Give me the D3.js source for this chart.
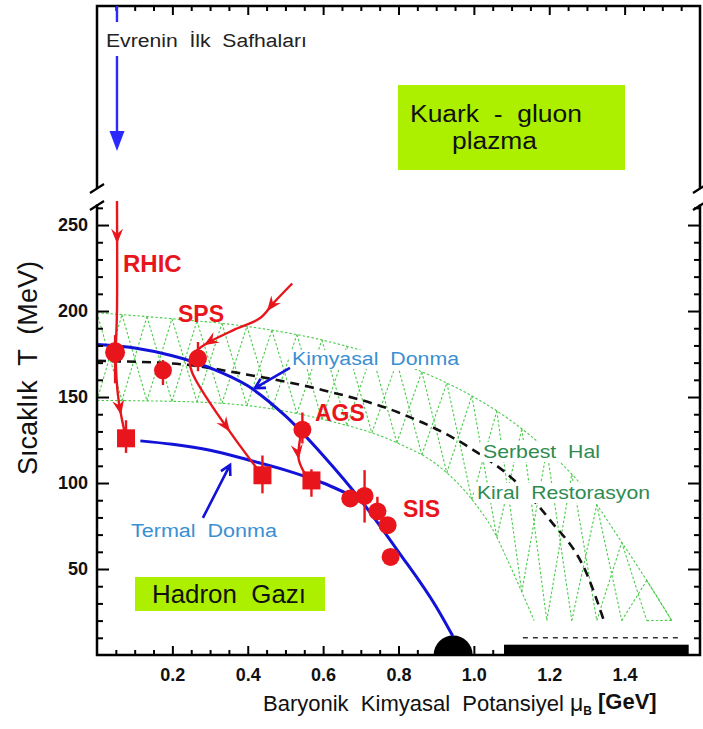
<!DOCTYPE html>
<html>
<head>
<meta charset="utf-8">
<script src="https://cdn.jsdelivr.net/npm/d3@7"></script>
<style>
  body { margin: 0; background: #fff; }
  text { font-family: "Liberation Sans", Arial, Helvetica, sans-serif; white-space: pre; }
</style>
</head>
<body>
<svg id="chart" width="703" height="729"></svg>
<script>
// ---- axis ticks ----
const muTicks = [0.2, 0.4, 0.6, 0.8, 1, 1.2, 1.4];
const tTicks = [50, 100, 150, 200, 250];

// ---- curves (muB in GeV, T in MeV) ----
const chemMu = [0, 0.1, 0.2, 0.3, 0.4, 0.5, 0.6, 0.7, 0.8, 0.9, 0.944];
const chemT  = [180.5, 178.5, 174, 167, 156.5, 139, 116, 90, 60, 28, 11];

const thermMu = [0.115, 0.2, 0.3, 0.4, 0.5, 0.6, 0.7];
const thermT  = [124.5, 122.5, 119, 113.5, 107.5, 100, 90];

const chiralMu = [0, 0.2, 0.4, 0.6, 0.8, 1.0, 1.1, 1.2, 1.3, 1.345];
const chiralT  = [171, 169.5, 163, 154, 141, 119, 103, 79, 47, 20];

const bandUpMu = [0, 0.2, 0.4, 0.6, 0.8, 0.9, 1.0, 1.1, 1.2, 1.3, 1.4, 1.5, 1.525];
const bandUpT  = [199, 195.5, 191, 183, 170, 161, 150, 136, 118, 95, 63, 29, 20];
const bandLoMu = [0, 0.2, 0.4, 0.6, 0.8, 0.9, 1.0, 1.05, 1.1, 1.16];
const bandLoT  = [148, 147.5, 145, 137, 123, 111, 89, 73, 50, 20];

// ---- chemical freeze-out points (circles) ----
const circMu = [0.048, 0.175, 0.268, 0.545, 0.672, 0.71, 0.744, 0.771, 0.779];
const circT  = [176, 165.5, 172.5, 131, 91, 92.5, 83.5, 75.5, 57];
const circLo = [158, 157, 165, 123, 86, 77, 80, 72, 54];
const circHi = [186, 171.5, 182, 141, 96, 107.5, 92, 79, 60];

// ---- thermal freeze-out points (squares) ----
const sqMu = [0.077, 0.439, 0.569];
const sqT  = [126, 104.5, 101.5];
const sqLo = [117.5, 94, 92];
const sqHi = [136.5, 116, 108];

// ---- collision trajectories ----
const rhicMu = [0.053, 0.053, 0.05, 0.052, 0.058, 0.068, 0.077];
const rhicT  = [264, 200, 176, 160, 147, 135, 126];
const spsMu  = [0.518, 0.468, 0.433, 0.362, 0.293, 0.266, 0.247, 0.252, 0.412, 0.439];
const spsT   = [216, 204.6, 195.9, 188.9, 181.4, 177.3, 172.7, 164.5, 112, 105];
const agsMu  = [0.54, 0.535, 0.55];
const agsT   = [127, 114, 106];

// ---- nuclear matter and neutron-star region ----
const nucleonMu = 0.945;
const starMu = [1.08, 1.57];
const starT = 6;
const starLineMu = [1.13, 1.55];
const starLineT = 10;

// ---- pointer arrows [mu, T] from -> to ----
const chemArrow  = [[0.512, 166.9], [0.419, 155.2]];
const thermArrow = [[0.281, 79.7], [0.353, 110.5]];

const RED = "#e8161c", BLUE = "#1212d8", LBLUE = "#3a8fd2", GREEN = "#2e8b4f", LIME = "#acf000";

const svg = d3.select("#chart");
const x = d3.scaleLinear().domain([0, 1.6]).range([97, 700]);
const y = d3.scaleLinear().domain([0, 262]).range([655, 204.4]);
const pts = (mu, T) => mu.map((m, i) => [x(m), y(T[i])]);
const monoLine = d3.line().curve(d3.curveMonotoneX);
const crLine = d3.line().curve(d3.curveCatmullRom.alpha(0.5));

// ---------- hatched crossover band ----------
const gBand = svg.append("g");
const upNode = gBand.append("path").attr("d", monoLine(pts(bandUpMu, bandUpT)))
  .attr("fill", "none").attr("stroke", "#4ccc4c").attr("stroke-width", 1.1)
  .attr("stroke-dasharray", "2.5,2").node();
const loNode = gBand.append("path").attr("d", monoLine(pts(bandLoMu, bandLoT)))
  .attr("fill", "none").attr("stroke", "#4ccc4c").attr("stroke-width", 1.1)
  .attr("stroke-dasharray", "2.5,2").node();

function sampler(node) {
  const L = node.getTotalLength(), s = [];
  for (let l = 0; l <= L; l += 1) { const p = node.getPointAtLength(l); s.push([p.x, p.y]); }
  const bis = d3.bisector(d => d[0]).left;
  return px => {
    const i = bis(s, px);
    if (i <= 0) return s[0][1];
    if (i >= s.length) return s[s.length - 1][1];
    const a = s[i - 1], b = s[i];
    return a[1] + (b[1] - a[1]) * (px - a[0]) / ((b[0] - a[0]) || 1);
  };
}
const upY = sampler(upNode), loCurveY = sampler(loNode);
const muUpEnd = bandUpMu[bandUpMu.length - 1];
const muLoEnd = bandLoMu[bandLoMu.length - 1];
const floorY = y(bandLoT[bandLoT.length - 1]);
const loY = px => px <= x(muLoEnd) ? loCurveY(px) : floorY;
const nHatch = 23;
const hatch = [];
for (let k = 0; k < nHatch; k++) {
  const xa = x(muUpEnd * k / nHatch), xb = x(muUpEnd * (k + 1) / nHatch);
  hatch.push([[xa, upY(xa)], [xb, loY(xb)]]);
  hatch.push([[xa, loY(xa)], [xb, upY(xb)]]);
}
gBand.selectAll("path.h").data(hatch).join("path").attr("class", "h")
  .attr("d", d => d3.line()(d)).attr("fill", "none")
  .attr("stroke", "#4ccc4c").attr("stroke-width", 1.1).attr("stroke-dasharray", "2.5,2");

// ---------- chiral restoration (dashed) ----------
svg.append("path").attr("d", monoLine(pts(chiralMu, chiralT)))
  .attr("fill", "none").attr("stroke", "#111").attr("stroke-width", 2.6)
  .attr("stroke-dasharray", "9,6");

// ---------- nuclear matter / neutron stars ----------
svg.append("line").attr("x1", x(starLineMu[0])).attr("x2", x(starLineMu[1]))
  .attr("y1", y(starLineT)).attr("y2", y(starLineT))
  .attr("stroke", "#333").attr("stroke-width", 1.6).attr("stroke-dasharray", "5,5");
svg.append("rect").attr("x", x(starMu[0])).attr("width", x(starMu[1]) - x(starMu[0]))
  .attr("y", y(starT)).attr("height", y(0) - y(starT)).attr("fill", "#000");
const discR = 19.5;
svg.append("path")
  .attr("d", `M${x(nucleonMu) - discR},${y(0)} A${discR},${discR} 0 0 1 ${x(nucleonMu) + discR},${y(0)} Z`)
  .attr("fill", "#000");

// ---------- labels with white backing ----------
function label(g, txt, px, py, opt) {
  const t = g.append("text").attr("x", px).attr("y", py).text(txt)
    .attr("font-size", opt.size).attr("fill", opt.color)
    .attr("font-weight", opt.bold ? "bold" : "normal");
  if (opt.len) t.attr("textLength", opt.len).attr("lengthAdjust", "spacingAndGlyphs");
  if (opt.bg) {
    const b = t.node().getBBox();
    g.insert("rect", () => t.node()).attr("x", b.x - 3).attr("y", b.y + 1)
      .attr("width", b.width + 6).attr("height", b.height - 1).attr("fill", "#fff");
  }
  return t;
}
const gLab = svg.append("g");
label(gLab, "Kimyasal  Donma", 292, 365, { size: 18, color: LBLUE, len: 167, bg: true });
label(gLab, "Serbest  Hal", 483, 458, { size: 19, color: GREEN, len: 117, bg: true });
label(gLab, "Kiral  Restorasyon", 477, 499, { size: 19, color: GREEN, len: 173, bg: true });
label(gLab, "Termal  Donma", 131, 537, { size: 18, color: LBLUE, len: 146 });

// ---------- freeze-out curves ----------
svg.append("path").attr("d", monoLine(pts(chemMu, chemT)))
  .attr("fill", "none").attr("stroke", BLUE).attr("stroke-width", 3);
svg.append("path").attr("d", monoLine(pts(thermMu, thermT)))
  .attr("fill", "none").attr("stroke", BLUE).attr("stroke-width", 3);

function pointer(a, color) {
  const p0 = [x(a[0][0]), y(a[0][1])], p1 = [x(a[1][0]), y(a[1][1])];
  const ang = Math.atan2(p1[1] - p0[1], p1[0] - p0[0]);
  const h = 11, w = 0.5;
  const l1 = [p1[0] - h * Math.cos(ang - w), p1[1] - h * Math.sin(ang - w)];
  const l2 = [p1[0] - h * Math.cos(ang + w), p1[1] - h * Math.sin(ang + w)];
  svg.append("path")
    .attr("d", `M${p0}L${p1}M${l1}L${p1}L${l2}`)
    .attr("fill", "none").attr("stroke", color).attr("stroke-width", 2.6)
    .attr("stroke-linejoin", "miter");
}
pointer(chemArrow, BLUE);
pointer(thermArrow, BLUE);

// ---------- trajectories ----------
function trajectory(mu, T, heads) {
  const node = svg.append("path").attr("d", crLine(pts(mu, T)))
    .attr("fill", "none").attr("stroke", RED).attr("stroke-width", 2.4).node();
  const L = node.getTotalLength();
  heads.forEach(f => {
    const l = f * L;
    const p = node.getPointAtLength(l);
    const q = node.getPointAtLength(Math.max(0, l - 2));
    const ang = Math.atan2(p.y - q.y, p.x - q.x) * 180 / Math.PI;
    svg.append("path").attr("d", "M0,0L-15,-6L-10,0L-15,6Z")
      .attr("transform", `translate(${p.x},${p.y}) rotate(${ang})`)
      .attr("fill", RED);
  });
}
trajectory(rhicMu, rhicT, [0.18, 0.9]);
trajectory(spsMu, spsT, [0.14, 0.41, 0.8]);
trajectory(agsMu, agsT, [0.62]);

// ---------- data points ----------
const gPts = svg.append("g").attr("fill", RED).attr("stroke", RED);
gPts.selectAll("line.ec").data(circMu).join("line").attr("class", "ec")
  .attr("x1", d => x(d)).attr("x2", d => x(d))
  .attr("y1", (d, i) => y(circLo[i])).attr("y2", (d, i) => y(circHi[i]))
  .attr("stroke-width", 2.4);
gPts.selectAll("circle").data(circMu).join("circle")
  .attr("cx", d => x(d)).attr("cy", (d, i) => y(circT[i]))
  .attr("r", (d, i) => i === 0 ? 10 : 9).attr("stroke", "none");
gPts.selectAll("line.es").data(sqMu).join("line").attr("class", "es")
  .attr("x1", d => x(d)).attr("x2", d => x(d))
  .attr("y1", (d, i) => y(sqLo[i])).attr("y2", (d, i) => y(sqHi[i]))
  .attr("stroke-width", 2.4);
const sq = 18;
gPts.selectAll("rect").data(sqMu).join("rect")
  .attr("x", d => x(d) - sq / 2).attr("y", (d, i) => y(sqT[i]) - sq / 2)
  .attr("width", sq).attr("height", sq).attr("stroke", "none");

// ---------- accelerator labels ----------
const gRed = svg.append("g");
label(gRed, "RHIC", 123, 272, { size: 24, color: RED, bold: true });
label(gRed, "SPS", 178, 322, { size: 23, color: RED, bold: true });
label(gRed, "AGS", 315, 421, { size: 23, color: RED, bold: true });
label(gRed, "SIS", 403, 517, { size: 23, color: RED, bold: true });

// ---------- phase boxes ----------
svg.append("rect").attr("x", 398).attr("y", 85).attr("width", 227).attr("height", 85).attr("fill", LIME);
label(svg, "Kuark  -  gluon", 410, 122, { size: 23, color: "#111", len: 172 });
label(svg, "plazma", 452, 149, { size: 23, color: "#111", len: 85 });
svg.append("rect").attr("x", 135).attr("y", 577).attr("width", 190).attr("height", 34).attr("fill", LIME);
label(svg, "Hadron  Gazı", 152, 603, { size: 26, color: "#111", len: 154 });

// ---------- axes ----------
const minorMu = d3.range(1, 32).map(i => i * 0.05).filter(v => Math.abs(v / 0.2 - Math.round(v / 0.2)) > 1e-6);
const minorT = d3.range(10, 262, 10).filter(v => v % 50 !== 0);
function axis(gen, tx, ty, values, size, labels) {
  const a = gen.tickValues(values).tickSize(size).tickPadding(labels ? 13 : 0);
  if (!labels) a.tickFormat("");
  const g = svg.append("g").attr("transform", `translate(${tx},${ty})`).call(a);
  g.select(".domain").remove();
  g.selectAll("line").attr("stroke", "#000").attr("stroke-width", 2);
  g.selectAll("text").attr("font-size", 18).attr("font-weight", "bold")
    .attr("font-family", "Liberation Sans, Arial, sans-serif").attr("fill", "#111");
  return g;
}
axis(d3.axisBottom(x), 0, 655, muTicks, -9, true);
axis(d3.axisBottom(x), 0, 655, minorMu, -5, false);
axis(d3.axisTop(x), 0, 6, muTicks, -9, false);
axis(d3.axisTop(x), 0, 6, minorMu, -5, false);
const yl = axis(d3.axisLeft(y), 97, 0, tTicks, -12, true);
yl.selectAll("text").attr("x", -9);
axis(d3.axisLeft(y), 97, 0, minorT, -6, false);
axis(d3.axisRight(y), 700, 0, tTicks, -12, false);
axis(d3.axisRight(y), 700, 0, minorT, -6, false);

// frame with broken vertical axes
const frame = svg.append("g").attr("stroke", "#000").attr("stroke-width", 2.5).attr("fill", "none");
frame.append("path").attr("d", `M97,188V6H700V188`);
frame.append("path").attr("d", `M97,${y(262)}V655H700V${y(262)}`);
[97, 700].forEach(ax => {
  frame.append("path").attr("d", `M${ax - 7},193L${ax + 7},184M${ax - 7},210L${ax + 7},201`)
    .attr("stroke-width", 2.2);
});

// axis titles
svg.append("text").attr("transform", "translate(37,368) rotate(-90)")
  .attr("text-anchor", "middle").attr("font-size", 28).attr("fill", "#111")
  .attr("textLength", 214).attr("lengthAdjust", "spacingAndGlyphs")
  .text("Sıcaklık  T  (MeV)");
const xt = svg.append("text").attr("x", 263).attr("y", 711).attr("font-size", 22).attr("fill", "#111");
xt.append("tspan").text("Baryonik  Kimyasal  Potansiyel ");
xt.append("tspan").text("μ").attr("font-size", 23);
xt.append("tspan").text("B").attr("font-size", 12).attr("font-weight", "bold").attr("dy", 4);
xt.append("tspan").text(" [GeV]").attr("font-weight", "bold").attr("dy", -6);

// ---------- early universe pointer (upper panel) ----------
const xu = x(rhicMu[0]);
svg.append("path").attr("d", `M${xu},6V22M${xu},56V136`)
  .attr("stroke", "#2a2aff").attr("stroke-width", 2.4).attr("fill", "none");
svg.append("path").attr("d", `M${xu - 7.5},131L${xu + 7.5},131L${xu},151Z`).attr("fill", "#2a2aff");
label(svg, "Evrenin  İlk  Safhaları", 106, 47, { size: 18, color: "#222", len: 201 });
</script>
</body>
</html>
